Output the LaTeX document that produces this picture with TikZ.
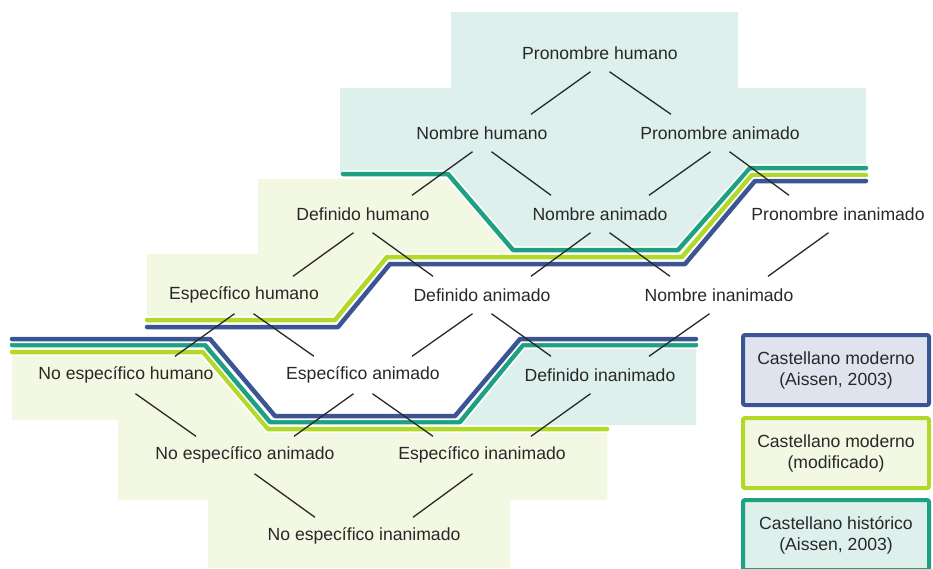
\documentclass[tikz,border=0pt]{standalone}
\usepackage{fontspec}
\setmainfont{Liberation Sans}
\usetikzlibrary{calc}

\definecolor{azul}{RGB}{58,84,148}
\definecolor{lima}{RGB}{178,216,40}
\definecolor{verde}{RGB}{30,160,130}
\definecolor{fondoverde}{RGB}{222,240,236}
\definecolor{fondolima}{RGB}{243,248,226}
\definecolor{fondoazul}{RGB}{223,227,238}
\definecolor{tinta}{RGB}{40,40,40}

\tikzset{
  cat/.style={inner sep=0pt, minimum height=37pt, text=tinta,
    font=\fontsize{17.6}{21}\selectfont},
  rama/.style={draw=tinta, line width=1.3pt},
  ruta/.style={line width=4.5pt, line cap=round, line join=round,
    preaction={draw=white, line width=8pt}},
  clave/.style={draw, line width=4pt, rounded corners=2pt, minimum width=186pt,
    minimum height=70pt, align=center, text=tinta,
    font=\fontsize{17.6}{21}\selectfont},
}

\begin{document}
\begin{tikzpicture}[x=1pt,y=-1pt]

\useasboundingbox (0,0) rectangle (933,568);

% fondos
\fill[fondolima] (258,179) -- (700,179) -- (682,257) -- (387,257) -- (335,320)
  -- (147,320) -- (147,254) -- (258,254) -- cycle;
\fill[fondolima] (12,352) -- (203,352) -- (268,429) -- (607,429) -- (607,500)
  -- (510,500) -- (510,568) -- (208,568) -- (208,500) -- (118,500) -- (118,420)
  -- (12,420) -- cycle;
\fill[fondoverde] (451,12) -- (738,12) -- (738,88) -- (866,88) -- (866,168)
  -- (750,168) -- (678,250) -- (513,250) -- (448,174) -- (340,174) -- (340,88)
  -- (451,88) -- cycle;
\fill[fondoverde] (523,345) -- (696,345) -- (696,425) -- (457,425) -- cycle;

% rutas
\draw[ruta, verde] (343,174) -- (448,174) -- (513,250) -- (678,250) -- (750,168) -- (866,168);
\draw[ruta, lima] (147,320) -- (335,320) -- (387,257) -- (682,257) -- (752,175) -- (866,175);
\draw[ruta, azul] (147,327) -- (338,327) -- (390,264) -- (685,264) -- (755,181) -- (866,181);

\draw[ruta, lima] (12,352) -- (203,352) -- (268,429) -- (607,429);
\draw[ruta, verde] (12,345) -- (205,345) -- (270,422) -- (460,422) -- (523,345) -- (696,345);
\draw[ruta, azul] (12,339) -- (210,339) -- (275,416) -- (455,416) -- (520,339) -- (696,339);

% jerarquia
\node[cat] (ph) at (600,53) {Pronombre humano};

\node[cat] (nh) at (482,133) {Nombre humano};
\node[cat] (pa) at (720,133) {Pronombre animado};

\node[cat] (dh) at (363,214) {Definido humano};
\node[cat] (na) at (600,214) {Nombre animado};
\node[cat] (pi) at (838,214) {Pronombre inanimado};

\node[cat] (eh) at (244,295) {Específico humano};
\node[cat] (da) at (482,295) {Definido animado};
\node[cat] (ni) at (719,295) {Nombre inanimado};

\node[cat] (neh) at (126,375) {No específico humano};
\node[cat] (ea) at (363,375) {Específico animado};
\node[cat] (di) at (600,375) {Definido inanimado};

\node[cat] (nea) at (245,455) {No específico animado};
\node[cat] (ei) at (482,455) {Específico inanimado};

\node[cat] (nei) at (364,536) {No específico inanimado};

\draw[rama] ([xshift=-9.5pt]ph.south) -- ([xshift=49pt]nh.north);
\draw[rama] ([xshift=9.5pt]ph.south) -- ([xshift=-49pt]pa.north);

\draw[rama] ([xshift=-9.5pt]nh.south) -- ([xshift=49pt]dh.north);
\draw[rama] ([xshift=9.5pt]nh.south) -- ([xshift=-49pt]na.north);
\draw[rama] ([xshift=-9.5pt]pa.south) -- ([xshift=49pt]na.north);
\draw[rama] ([xshift=9.5pt]pa.south) -- ([xshift=-49pt]pi.north);

\draw[rama] ([xshift=-9.5pt]dh.south) -- ([xshift=49pt]eh.north);
\draw[rama] ([xshift=9.5pt]dh.south) -- ([xshift=-49pt]da.north);
\draw[rama] ([xshift=-9.5pt]na.south) -- ([xshift=49pt]da.north);
\draw[rama] ([xshift=9.5pt]na.south) -- ([xshift=-49pt]ni.north);
\draw[rama] ([xshift=-9.5pt]pi.south) -- ([xshift=49pt]ni.north);

\draw[rama] ([xshift=-9.5pt]eh.south) -- ([xshift=49pt]neh.north);
\draw[rama] ([xshift=9.5pt]eh.south) -- ([xshift=-49pt]ea.north);
\draw[rama] ([xshift=-9.5pt]da.south) -- ([xshift=49pt]ea.north);
\draw[rama] ([xshift=9.5pt]da.south) -- ([xshift=-49pt]di.north);
\draw[rama] ([xshift=-9.5pt]ni.south) -- ([xshift=49pt]di.north);

\draw[rama] ([xshift=9.5pt]neh.south) -- ([xshift=-49pt]nea.north);
\draw[rama] ([xshift=-9.5pt]ea.south) -- ([xshift=49pt]nea.north);
\draw[rama] ([xshift=9.5pt]ea.south) -- ([xshift=-49pt]ei.north);
\draw[rama] ([xshift=-9.5pt]di.south) -- ([xshift=49pt]ei.north);

\draw[rama] ([xshift=9.5pt]nea.south) -- ([xshift=-49pt]nei.north);
\draw[rama] ([xshift=-9.5pt]ei.south) -- ([xshift=49pt]nei.north);

% leyenda
\node[clave, draw=azul, fill=fondoazul] (moderno) at (836,370)
  {Castellano moderno\\(Aissen, 2003)};
\node[clave, draw=lima, fill=fondolima] (modificado) at (836,453)
  {Castellano moderno\\(modificado)};
\node[clave, draw=verde, fill=fondoverde] (historico) at (836,535)
  {Castellano histórico\\(Aissen, 2003)};

\end{tikzpicture}
\end{document}
